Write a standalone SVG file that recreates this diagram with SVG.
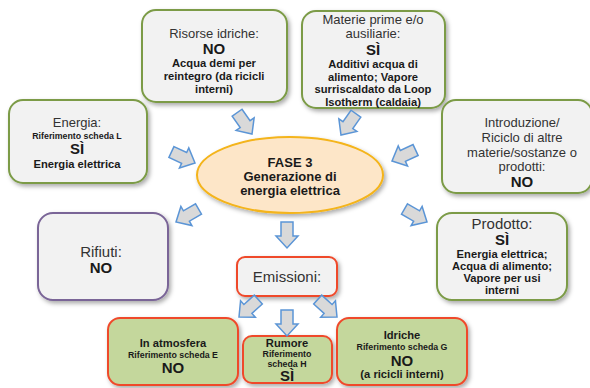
<svg xmlns="http://www.w3.org/2000/svg" width="590" height="388" viewBox="0 0 590 388">
  <defs>
    <filter id="shadow" x="-10%" y="-10%" width="130%" height="130%">
      <feDropShadow dx="2" dy="2.5" stdDeviation="2" flood-color="#000" flood-opacity="0.33"/>
    </filter>
    <!-- block arrow pointing along +x, tip at origin -->
    <path id="blk" d="M-26,-6 L-12,-6 L-12,-11 L0,0 L-12,11 L-12,6 L-26,6 Z"/>
  </defs>
  <style>
    text { font-family: "Liberation Sans", Arial, sans-serif; fill: #1a1a1a; text-anchor: middle; }
    .lbl { font-size: 13px; fill: #333; }
    .big { font-size: 15px; font-weight: bold; }
    .b { font-size: 11.2px; font-weight: bold; }
    .ref { font-size: 8.8px; font-weight: bold; }
    .core-t { font-size: 13px; font-weight: bold; }
    .box { fill: #f2f2f2; stroke: #7b9b46; stroke-width: 2; filter: url(#shadow); }
    .waste { fill: #f2f2f2; stroke: #7a6597; stroke-width: 2; filter: url(#shadow); }
    .emi { fill: #f2f2f2; stroke: #ef4a2c; stroke-width: 2; filter: url(#shadow); }
    .emg { fill: #c4d79c; stroke: #ef4a2c; stroke-width: 2; filter: url(#shadow); }
    .core { fill: #fde6c8; stroke: #f4b41a; stroke-width: 2; filter: url(#shadow); }
    .arr use { fill: #d9d9d9; stroke: #5b95d6; stroke-width: 1.5; stroke-linejoin: miter; }
  </style>

  <g id="risorse-idriche">
    <rect class="box" x="142" y="10" width="145" height="92" rx="14"/>
    <text class="lbl" x="214" y="37.5">Risorse idriche:</text>
    <text class="big" x="214" y="53.5">NO</text>
    <text class="b" x="214" y="67">Acqua demi per</text>
    <text class="b" x="214" y="80">reintegro (da ricicli</text>
    <text class="b" x="214" y="93">interni)</text>
  </g>

  <g id="materie-prime">
    <rect class="box" x="302" y="11" width="143" height="97" rx="14"/>
    <text class="lbl" x="373" y="24">Materie prime e/o</text>
    <text class="lbl" x="373" y="38">ausiliarie:</text>
    <text class="big" x="373" y="55">SÌ</text>
    <text class="b" x="373" y="68">Additivi acqua di</text>
    <text class="b" x="373" y="80.5">alimento; Vapore</text>
    <text class="b" x="373" y="93">surriscaldato da Loop</text>
    <text class="b" x="373" y="105.5">Isotherm (caldaia)</text>
  </g>

  <g id="energia">
    <rect class="box" x="9" y="100" width="138" height="83" rx="14"/>
    <text class="lbl" x="77" y="127">Energia:</text>
    <text class="ref" x="77" y="139">Riferimento scheda L</text>
    <text class="big" x="77" y="154">SÌ</text>
    <text class="b" x="77" y="167.5">Energia elettrica</text>
  </g>

  <g id="introduzione">
    <rect class="box" x="442" y="100" width="150" height="93" rx="14"/>
    <text class="lbl" x="522" y="126.5">Introduzione/</text>
    <text class="lbl" x="522" y="141.5">Riciclo di altre</text>
    <text class="lbl" x="522" y="156.5">materie/sostanze o</text>
    <text class="lbl" x="522" y="171">prodotti:</text>
    <text class="big" x="522" y="186.5">NO</text>
  </g>

  <g id="fase3">
    <ellipse class="core" cx="290" cy="175" rx="93" ry="38"/>
    <text class="core-t" x="290" y="166.5">FASE 3</text>
    <text class="core-t" x="290" y="180.5">Generazione di</text>
    <text class="core-t" x="290" y="194.5">energia elettrica</text>
  </g>

  <g id="rifiuti">
    <rect class="waste" x="38" y="213" width="130" height="87" rx="15"/>
    <text class="lbl" style="font-size:15px" x="101" y="256.5">Rifiuti:</text>
    <text class="big" x="101" y="273">NO</text>
  </g>

  <g id="prodotto">
    <rect class="box" x="437" y="213" width="130" height="87" rx="15"/>
    <text class="lbl" style="font-size:15px" x="502" y="228.5">Prodotto:</text>
    <text class="big" x="502" y="245">SÌ</text>
    <text class="b" x="502" y="258">Energia elettrica;</text>
    <text class="b" x="502" y="270">Acqua di alimento;</text>
    <text class="b" x="502" y="282">Vapore per usi</text>
    <text class="b" x="502" y="294">interni</text>
  </g>

  <g id="emissioni">
    <rect class="emi" x="237" y="257" width="100" height="39" rx="8"/>
    <text class="lbl" style="font-size:15px" x="287" y="282">Emissioni:</text>
  </g>

  <g id="in-atmosfera">
    <rect class="emg" x="108" y="318" width="130" height="67" rx="12"/>
    <text class="b" x="173" y="347">In atmosfera</text>
    <text class="ref" x="173" y="357.5">Riferimento scheda E</text>
    <text class="big" x="173" y="373">NO</text>
  </g>

  <g id="rumore">
    <rect class="emg" x="243" y="336" width="89" height="47" rx="9"/>
    <text class="b" x="287" y="347">Rumore</text>
    <text class="ref" x="287" y="357">Riferimento</text>
    <text class="ref" x="287" y="366.5">scheda H</text>
    <text class="big" x="287" y="381">SÌ</text>
  </g>

  <g id="idriche">
    <rect class="emg" x="337" y="318" width="130" height="67" rx="12"/>
    <text class="b" x="402" y="339">Idriche</text>
    <text class="ref" x="402" y="350">Riferimento scheda G</text>
    <text class="big" x="402" y="365.5">NO</text>
    <text class="b" x="402" y="378">(a ricicli interni)</text>
  </g>

  <g id="connectors" class="arr">
    <use href="#blk" transform="translate(252,134) rotate(55)"/>
    <use href="#blk" transform="translate(341,135) rotate(125)"/>
    <use href="#blk" transform="translate(195,163) rotate(25)"/>
    <use href="#blk" transform="translate(392,161) rotate(155)"/>
    <use href="#blk" transform="translate(176,222) rotate(150)"/>
    <use href="#blk" transform="translate(427,222) rotate(30)"/>
    <use href="#blk" transform="translate(287,248) rotate(90)"/>
    <use href="#blk" transform="translate(239,317) rotate(138)"/>
    <use href="#blk" transform="translate(287,336) rotate(90)"/>
    <use href="#blk" transform="translate(337,317) rotate(42)"/>
  </g>
</svg>
